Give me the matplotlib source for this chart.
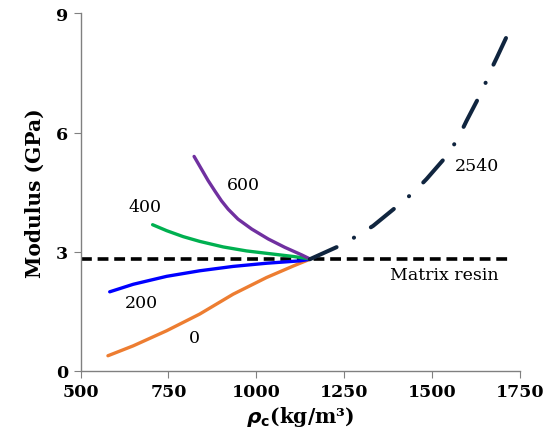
import numpy as np
import matplotlib
matplotlib.use("Agg")
import matplotlib.pyplot as plt

plt.rcParams['font.family'] = ['DejaVu Serif']

# curve data (rho_c in kg/m3, modulus in GPa)
x_0 = [578, 650, 745, 839, 934, 1029, 1105, 1152]
y_0 = [0.38, 0.63, 1.01, 1.43, 1.93, 2.35, 2.64, 2.81]

x_200 = [583, 650, 745, 839, 934, 1029, 1124, 1152]
y_200 = [1.99, 2.18, 2.38, 2.52, 2.63, 2.71, 2.77, 2.81]

x_400 = [705, 745, 792, 839, 906, 972, 1048, 1105, 1152]
y_400 = [3.68, 3.53, 3.38, 3.26, 3.12, 3.02, 2.94, 2.88, 2.82]

x_600 = [823, 844, 863, 882, 901, 920, 948, 987, 1034, 1081, 1129, 1152]
y_600 = [5.40, 5.08, 4.79, 4.53, 4.28, 4.07, 3.82, 3.57, 3.32, 3.11, 2.92, 2.82]

x_2540 = [1152, 1247, 1290, 1332, 1408, 1449, 1484, 1546, 1576, 1598, 1645, 1664, 1684, 1712]
y_2540 = [2.81, 3.19, 3.42, 3.65, 4.20, 4.51, 4.83, 5.46, 5.90, 6.30, 7.10, 7.52, 7.89, 8.42]

resin_x = [500, 1716]
resin_y = 2.81

fig = plt.figure(figsize=(5.44, 4.39), dpi=100)
ax = fig.add_axes([0.148, 0.153, 0.808, 0.814])

ax.plot(resin_x, [resin_y, resin_y], color='black', lw=2.6, dashes=(3, 1.6), zorder=1)
solid = dict(lw=2.4, solid_capstyle='round', solid_joinstyle='round', zorder=2)
ax.plot(x_0, y_0, color='#ED7D31', **solid)
ax.plot(x_200, y_200, color='#0000FF', **solid)
ax.plot(x_400, y_400, color='#00B050', **solid)
ax.plot(x_600, y_600, color='#7030A0', **solid)
ax.plot(x_2540, y_2540, color='#10253F', lw=2.9, dashes=(7.3, 4.9, 0.05, 4.9),
        dash_capstyle='round', dash_joinstyle='round', zorder=3)

lab = dict(fontsize=12.5, ha='center', va='center')
ax.text(962, 4.70, '600', **lab)
ax.text(683, 4.15, '400', **lab)
ax.text(674, 1.73, '200', **lab)
ax.text(825, 0.85, '0', **lab)
ax.text(1627, 5.16, '2540', **lab)
ax.text(1534, 2.43, 'Matrix resin', **lab)

ax.set_xlim(500, 1750)
ax.set_ylim(0, 9)
ax.set_xticks([500, 750, 1000, 1250, 1500, 1750])
ax.set_yticks([0, 3, 6, 9])
for s in ['top', 'right']:
    ax.spines[s].set_visible(False)
for s in ['left', 'bottom']:
    ax.spines[s].set_color('#808080')
    ax.spines[s].set_linewidth(1)
ax.tick_params(direction='out', length=5, color='#808080', labelsize=12.5, pad=4)
for t in ax.get_xticklabels() + ax.get_yticklabels():
    t.set_fontweight('bold')

ax.set_ylabel('Modulus (GPa)', fontsize=14.5, fontweight='bold', labelpad=8)
ax.set_xlabel(r'$\boldsymbol{\rho}_\mathbf{c}$(kg/m³)', fontsize=14.5, fontweight='bold', labelpad=3)

fig.savefig('out.png', dpi=100)
